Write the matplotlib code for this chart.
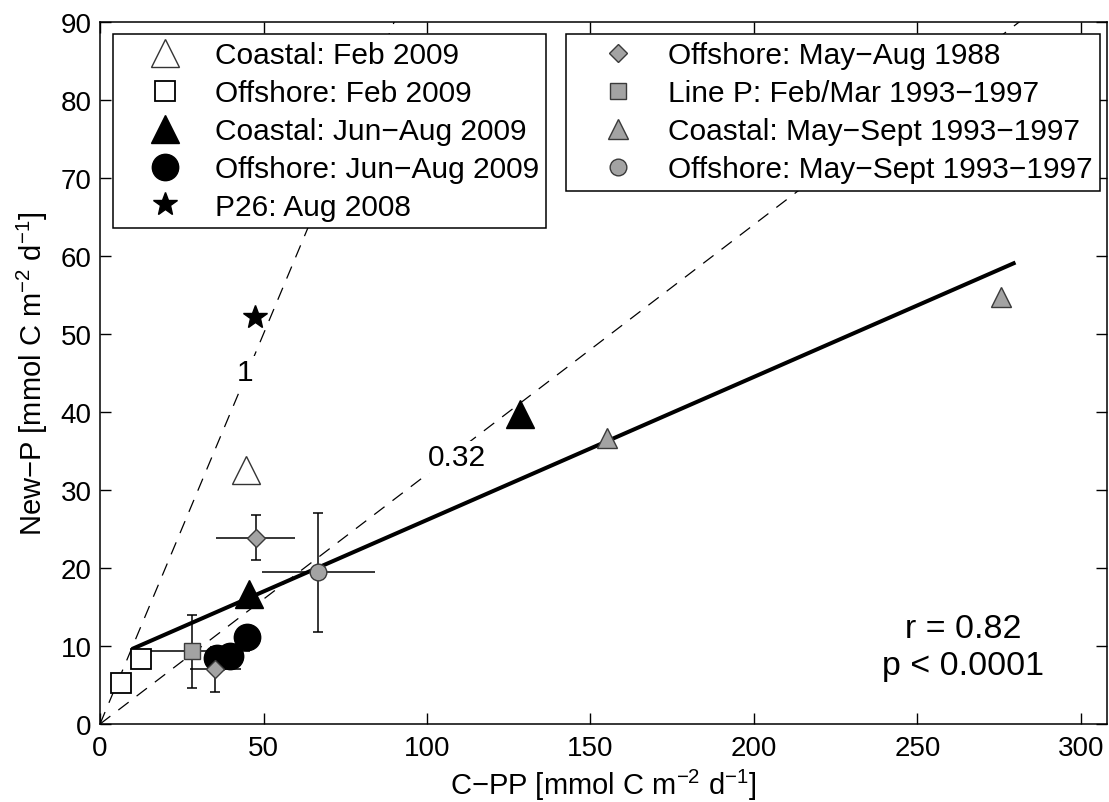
import matplotlib.pyplot as plt

plt.rcParams['font.family'] = ['Liberation Sans', 'DejaVu Sans']
plt.rcParams['mathtext.fontset'] = 'custom'
plt.rcParams['mathtext.rm'] = 'Liberation Sans'
plt.rcParams['mathtext.default'] = 'regular'

# --- data ---
# this study (2008/2009)
coast_feb_x = [44.6]
coast_feb_y = [32.6]
off_feb_x = [6.3, 12.5]
off_feb_y = [5.2, 8.3]
coast_sum_x = [45.7, 128.6]
coast_sum_y = [16.7, 39.7]
off_sum_x = [35.7, 39.8, 45.0]
off_sum_y = [8.4, 8.7, 11.2]
p26_x = [47.4]
p26_y = [52.2]

# historical data (with error bars)
off88_x = [47.6, 35.2]
off88_y = [23.9, 7.0]
off88_xerr = [12.0, 7.8]
off88_yerr = [2.85, 2.85]
linep_x = [28.0]
linep_y = [9.3]
linep_xerr = [18.0]
linep_yerr = [4.7]
coast9397_x = [155.2, 275.5]
coast9397_y = [36.7, 54.7]
off9397_x = [66.8]
off9397_y = [19.45]
off9397_xerr = [17.3]
off9397_yerr = [7.6]

# regression and f-ratio reference lines
fit_slope = 0.1833
fit_intercept = 7.82
fit_xrange = [9.7, 280.0]
ratio_slopes = [1.0, 0.32]
ratio_labels = ['1', '0.32']
ratio_label_x = [44.4, 109.3]
ratio_label_y = [45.1, 34.2]

gray = '#a3a3a3'
gedge = '#3a3a3a'

fig = plt.figure(figsize=(11.09, 8.03), dpi=100)
ax = fig.add_axes([0.0902, 0.0971, 0.908, 0.8746])

# reference lines through origin
xr = [0, 310]
for s in ratio_slopes:
    ax.plot(xr, [s * v for v in xr], color='black', lw=0.9, dashes=(10.4, 8), zorder=1)
for lab, lx, ly in zip(ratio_labels, ratio_label_x, ratio_label_y):
    ax.text(lx, ly, lab, fontsize=21.5, ha='center', va='center', zorder=2,
            bbox=dict(facecolor='white', edgecolor='none', pad=1.5))

# regression line
ax.plot(fit_xrange, [fit_slope * v + fit_intercept for v in fit_xrange],
        color='black', lw=2.9, zorder=3, solid_capstyle='butt')

# error bars: vertical with caps, horizontal without
ebkw = dict(fmt='none', ecolor='black', elinewidth=1.1, zorder=2)
ax.errorbar(off88_x, off88_y, yerr=off88_yerr, capsize=3.5, capthick=1.1, **ebkw)
ax.errorbar(off88_x, off88_y, xerr=off88_xerr, capsize=0, **ebkw)
ax.errorbar(linep_x, linep_y, yerr=linep_yerr, capsize=3.5, capthick=1.1, **ebkw)
ax.errorbar(linep_x, linep_y, xerr=linep_xerr, capsize=0, **ebkw)
ax.errorbar(off9397_x, off9397_y, yerr=off9397_yerr, capsize=3.5, capthick=1.1, **ebkw)
ax.errorbar(off9397_x, off9397_y, xerr=off9397_xerr, capsize=0, **ebkw)

# this study
h1, = ax.plot(coast_feb_x, coast_feb_y, ls='none', marker='^', ms=20, mfc='white',
              mec='#333333', mew=1.0, zorder=4, label='Coastal: Feb 2009')
h2, = ax.plot(off_feb_x, off_feb_y, ls='none', marker='s', ms=15, mfc='white',
              mec='black', mew=1.3, zorder=4, label='Offshore: Feb 2009')
h3, = ax.plot(coast_sum_x, coast_sum_y, ls='none', marker='^', ms=20, mfc='black',
              mec='black', zorder=4, label='Coastal: Jun\u2212Aug 2009')
h4, = ax.plot(off_sum_x, off_sum_y, ls='none', marker='o', ms=19, mfc='black',
              mec='black', zorder=4, label='Offshore: Jun\u2212Aug 2009')
h5, = ax.plot(p26_x, p26_y, ls='none', marker='*', ms=18, mfc='black',
              mec='black', zorder=4, label='P26: Aug 2008')

# historical
g1, = ax.plot(off88_x, off88_y, ls='none', marker='D', ms=9, mfc=gray, mec=gedge,
              mew=1.0, zorder=5, label='Offshore: May\u2212Aug 1988')
g2, = ax.plot(linep_x, linep_y, ls='none', marker='s', ms=11.5, mfc=gray, mec=gedge,
              mew=1.0, zorder=5, label='Line P: Feb/Mar 1993\u22121997')
g3, = ax.plot(coast9397_x, coast9397_y, ls='none', marker='^', ms=14, mfc=gray, mec=gedge,
              mew=1.0, zorder=5, label='Coastal: May\u2212Sept 1993\u22121997')
g4, = ax.plot(off9397_x, off9397_y, ls='none', marker='o', ms=12, mfc=gray, mec=gedge,
              mew=1.0, zorder=5, label='Offshore: May\u2212Sept 1993\u22121997')

legkw = dict(loc='upper left', fontsize=21.5, frameon=True, fancybox=False,
             framealpha=1, edgecolor='black', borderaxespad=0, borderpad=0.25,
             handlelength=3.0, handletextpad=0.15, labelspacing=0.33, numpoints=1)
leg1 = ax.legend(handles=[h1, h2, h3, h4, h5], bbox_to_anchor=(0.0129, 0.9825), **legkw)
leg1.get_frame().set_linewidth(1.1)
ax.add_artist(leg1)
leg2 = ax.legend(handles=[g1, g2, g3, g4], bbox_to_anchor=(0.4628, 0.9825), **legkw)
leg2.get_frame().set_linewidth(1.1)

ax.text(264, 9.9, 'r = 0.82\np < 0.0001', fontsize=24.5, ha='center', va='center',
        multialignment='center', linespacing=1.25)

ax.set_xlim(0, 308)
ax.set_ylim(0, 90)
ax.set_xticks(range(0, 301, 50))
ax.set_yticks(range(0, 91, 10))
ax.tick_params(direction='in', length=8, width=1.0, labelsize=20, top=True, right=True)
ax.tick_params(axis='x', pad=8)
ax.tick_params(axis='y', pad=6)
for sp in ax.spines.values():
    sp.set_linewidth(1.1)

ax.set_xlabel('C\u2212PP [mmol C m$^{\u22122}$ d$^{\u22121}$]', fontsize=21, labelpad=4)
ax.set_ylabel('New\u2212P [mmol C m$^{\u22122}$ d$^{\u22121}$]', fontsize=21, labelpad=8)

fig.savefig('out.png', dpi=100)
